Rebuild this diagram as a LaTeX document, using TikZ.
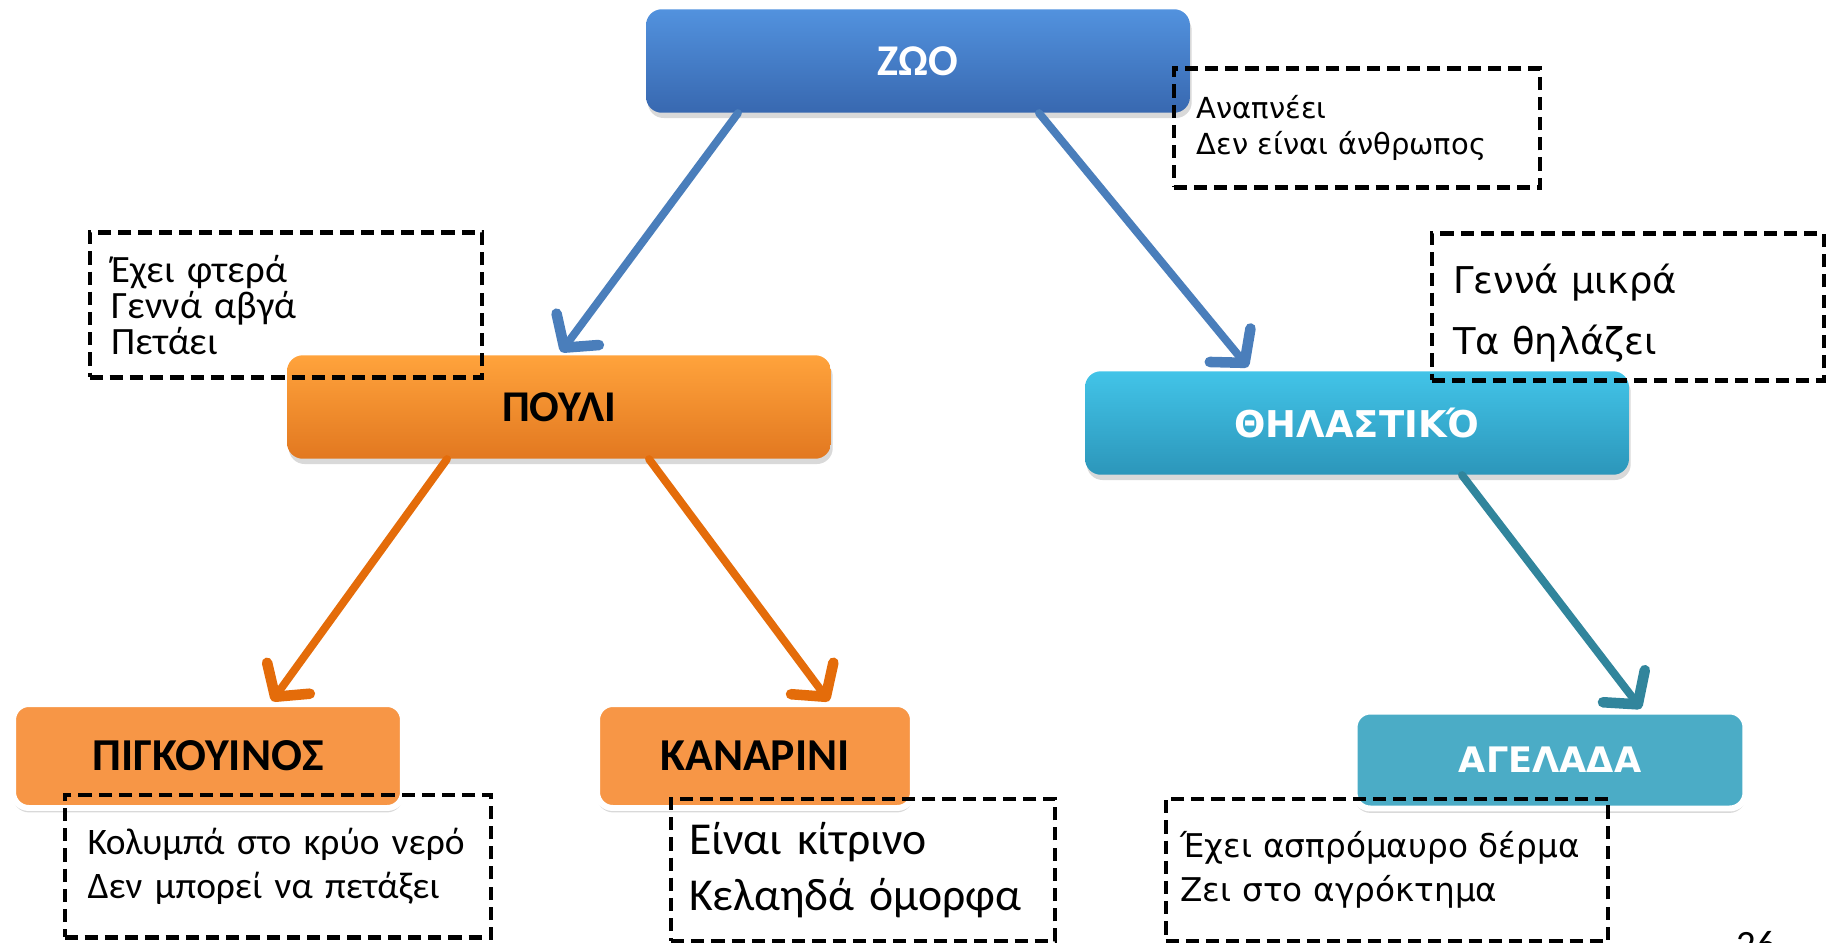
\documentclass[tikz,border=0pt]{standalone}
\usepackage{fontspec}
\setmainfont{Carlito}
\newfontfamily\widefont{DejaVu Sans}
\usetikzlibrary{arrows.meta,shadows,calc}
\definecolor{linkblue}{RGB}{74,126,187}
\definecolor{linkorange}{RGB}{228,108,10}
\definecolor{linkteal}{RGB}{49,133,156}
\definecolor{bluetop}{RGB}{82,146,222}
\definecolor{bluebottom}{RGB}{56,104,176}
\definecolor{orangetop}{RGB}{255,163,60}
\definecolor{orangebottom}{RGB}{226,120,32}
\definecolor{cyantop}{RGB}{66,196,232}
\definecolor{cyanbottom}{RGB}{44,150,186}
\definecolor{flatorange}{RGB}{247,150,70}
\definecolor{flatteal}{RGB}{75,172,198}
\begin{document}
\begin{tikzpicture}[x=0.02cm, y=-0.02cm,
    glossy/.style={rounded corners=9pt, minimum width=10.88cm, minimum height=2.07cm,
        font=\bfseries\fontsize{25}{30}\selectfont,
        drop shadow={shadow xshift=1pt, shadow yshift=-3pt, opacity=.3}},
    framed/.style={rounded corners=9pt, draw=white, line width=3.4pt, minimum height=2.08cm,
        font=\bfseries\fontsize{26}{30}\selectfont,
        drop shadow={shadow xshift=0pt, shadow yshift=-2.5pt, opacity=.3}},
    note/.style={draw, line width=2.3pt, dash pattern=on 7.5pt off 4pt, align=left,
        execute at begin node={\lineskiplimit=-30pt}},
    link/.style={line width=4.5pt, line cap=round, -{Straight Barb[length=13pt, width=30pt, line width=6pt, round]}}]
\useasboundingbox (0,0) rectangle (1830,943);

\node[glossy, top color=bluetop, bottom color=bluebottom, text=white] (zoo) at (918,61) {ΖΩΟ};
\node[glossy, top color=orangetop, bottom color=orangebottom] (poyli) at (559,407) {ΠΟΥΛΙ};
\node[glossy, top color=cyantop, bottom color=cyanbottom, text=white,
    font=\widefont\bfseries\fontsize{21}{25}\selectfont] (thilastiko) at (1357,423) {ΘΗΛΑΣΤΙΚΌ};
\node[framed, fill=flatorange, minimum width=7.8cm] (pigkoyinos) at (208,756) {ΠΙΓΚΟΥΙΝΟΣ};
\node[framed, fill=flatorange, minimum width=6.32cm] (kanarini) at (755,756) {ΚΑΝΑΡΙΝΙ};
\node[framed, fill=flatteal, minimum width=7.82cm, minimum height=1.94cm, text=white,
    font=\widefont\bfseries\fontsize{20}{24}\selectfont] (agelada) at (1550,760) {ΑΓΕΛΑΔΑ};

\draw[link, linkblue] ($(zoo.south)+(-180,0)$) -- ($(poyli.north)+(2,-3)$);
\draw[link, linkblue] ($(zoo.south)+(121,0)$) -- ($(thilastiko.north)+(-109,-4)$);
\draw[link, linkorange] ($(poyli.south)+(-112,0)$) -- ($(pigkoyinos.north)+(64,0)$);
\draw[link, linkorange] ($(poyli.south)+(90,0)$) -- ($(kanarini.north)+(74,0)$);
\draw[link, linkteal] ($(thilastiko.south)+(105,0)$) -- ($(agelada.north)+(91,0)$);

\node[note, font=\widefont\fontsize{16.5}{20.5}\selectfont, minimum width=7.34cm, minimum height=2.38cm,
    text width=6.42cm, inner xsep=0.46cm] (zoonote) at (1357,128) {Αναπνέει\\Δεν είναι άνθρωπος};
\node[note, font=\fontsize{22}{20.3}\selectfont, minimum width=7.86cm, minimum height=2.9cm,
    text width=6.98cm, inner xsep=0.44cm] (poylinote) at (286,305) {Έχει φτερά\\Γεννά αβγά\\Πετάει};
\node[note, font=\widefont\fontsize{21}{35}\selectfont, minimum width=7.84cm, minimum height=2.94cm,
    text width=7cm, inner xsep=0.42cm] (thilastikonote) at (1628,307) {\rule{0pt}{24pt}Γεννά μικρά\\Τα θηλάζει};
\node[note, font=\fontsize{21.3}{25}\selectfont, minimum width=8.54cm, minimum height=2.86cm,
    text width=7.62cm, inner xsep=0.46cm] (pigkoyinosnote) at (278,866) {\mbox{Κολυμπά στο κρύο νερό}\\\mbox{Δεν μπορεί να πετάξει}};
\node[note, font=\fontsize{26}{32}\selectfont, minimum width=7.68cm, minimum height=2.86cm,
    text width=6.96cm, inner xsep=0.36cm] (kanarininote) at (863,870) {Είναι κίτρινο\\Κελαηδά όμορφα};
\node[note, font=\widefont\fontsize{18.6}{25}\selectfont, minimum width=8.86cm, minimum height=2.86cm,
    text width=8.26cm, inner xsep=0.3cm] (ageladanote) at (1387,870) {Έχει ασπρόμαυρο δέρμα\\Ζει στο αγρόκτημα};

\node[anchor=base, font=\fontsize{22}{26}\selectfont] (page) at (1756,957) {26};
\end{tikzpicture}
\end{document}
